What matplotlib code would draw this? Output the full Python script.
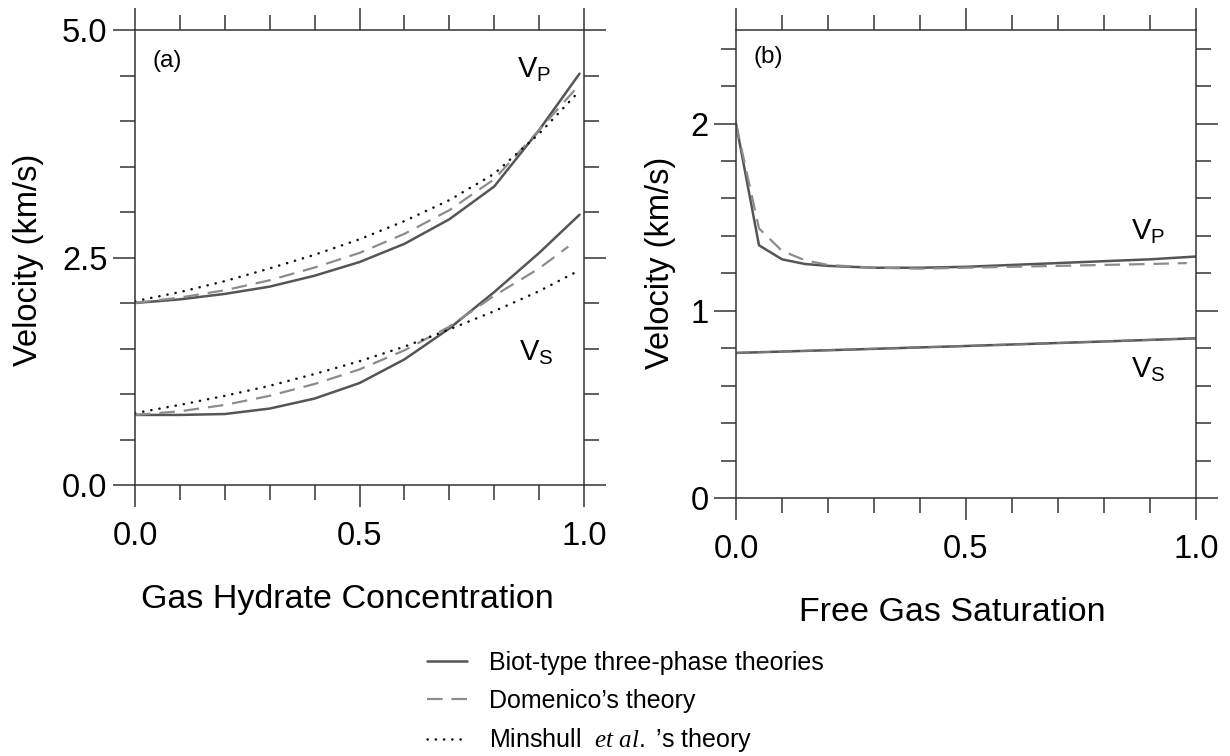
import matplotlib
matplotlib.use("Agg")
import matplotlib.pyplot as plt
from matplotlib.ticker import MultipleLocator, FormatStrFormatter

plt.rcParams['font.family'] = ['Liberation Sans', 'DejaVu Sans']
plt.rcParams['mathtext.fontset'] = 'custom'
plt.rcParams['mathtext.rm'] = 'Liberation Sans'
plt.rcParams['mathtext.it'] = 'Liberation Serif:italic'

# ---------------- data: panel (a) ----------------
hyd_x = [0.0, 0.1, 0.2, 0.3, 0.4, 0.5, 0.6, 0.7, 0.8, 0.9, 0.99]
a_vp_biot = [2.00, 2.04, 2.10, 2.18, 2.30, 2.45, 2.65, 2.92, 3.28, 3.90, 4.52]
a_vp_dom = [2.00, 2.06, 2.14, 2.25, 2.39, 2.55, 2.76, 3.02, 3.36, 3.90, 4.40]
a_vp_min = [2.02, 2.12, 2.24, 2.38, 2.53, 2.70, 2.90, 3.13, 3.42, 3.86, 4.33]
a_vs_biot = [0.77, 0.77, 0.78, 0.84, 0.95, 1.12, 1.38, 1.72, 2.12, 2.55, 2.97]
hyd_x_dom_vs = [0.0, 0.1, 0.2, 0.3, 0.4, 0.5, 0.6, 0.7, 0.8, 0.9, 0.965]
a_vs_dom = [0.77, 0.81, 0.88, 0.98, 1.11, 1.27, 1.48, 1.74, 2.08, 2.38, 2.62]
a_vs_min = [0.79, 0.88, 0.98, 1.09, 1.22, 1.36, 1.52, 1.71, 1.91, 2.13, 2.36]

# ---------------- data: panel (b) ----------------
gas_x = [0.0, 0.05, 0.1, 0.15, 0.2, 0.3, 0.4, 0.5, 0.6, 0.7, 0.8, 0.9, 1.0]
b_vp_biot = [2.00, 1.35, 1.275, 1.25, 1.24, 1.23, 1.23, 1.235, 1.245, 1.255, 1.265, 1.275, 1.29]
gas_x_dom = [0.0, 0.05, 0.1, 0.15, 0.2, 0.3, 0.4, 0.5, 0.6, 0.7, 0.8, 0.9, 0.98]
b_vp_dom = [2.00, 1.44, 1.32, 1.27, 1.245, 1.23, 1.225, 1.23, 1.235, 1.24, 1.245, 1.25, 1.255]
gas_x_vs = [0.0, 0.25, 0.5, 0.75, 1.0]
b_vs_biot = [0.775, 0.793, 0.812, 0.832, 0.853]
b_vs_dom = [0.775, 0.793, 0.812, 0.832, 0.853]

legend_labels = ["Biot-type three-phase theories",
                 "Domenico\u2019s theory",
                 "Minshull  $\\mathit{et\\ al.}$ \u2019s theory"]

C_SOLID = '#555555'
C_DASH = '#8c8c8c'
C_DOT = '#111111'
C_AX = '#333333'

fig = plt.figure(figsize=(12.3, 7.56), dpi=100)
axa = fig.add_axes([135/1230, 1 - 485/756, 449/1230, 455/756])
axb = fig.add_axes([736/1230, 1 - 498/756, 460/1230, 468/756])

solid_kw = dict(color=C_SOLID, lw=1.8, solid_capstyle='round')
dash_kw = dict(color=C_DASH, lw=1.6, linestyle=(0, (7, 4)))
dot_kw = dict(color=C_DOT, lw=1.8, linestyle=(0, (0.1, 3.2)), dash_capstyle='round')

# panel a
l1, = axa.plot(hyd_x, a_vp_biot, **solid_kw)
l2, = axa.plot(hyd_x, a_vp_dom, **dash_kw)
l3, = axa.plot(hyd_x, a_vp_min, **dot_kw)
axa.plot(hyd_x, a_vs_biot, **solid_kw)
axa.plot(hyd_x_dom_vs, a_vs_dom, **dash_kw)
axa.plot(hyd_x, a_vs_min, **dot_kw)

# panel b
axb.plot(gas_x, b_vp_biot, **solid_kw)
axb.plot(gas_x_dom, b_vp_dom, **dash_kw)
axb.plot(gas_x_vs, b_vs_biot, **solid_kw)
axb.plot(gas_x_vs, b_vs_dom, color='#777777', lw=1.4, linestyle=(0, (7, 4)))

for ax in (axa, axb):
    ax.set_xlim(0, 1.0)
    ax.xaxis.set_major_locator(MultipleLocator(0.5))
    ax.xaxis.set_minor_locator(MultipleLocator(0.1))
    ax.tick_params(which='both', direction='out', top=True, right=True,
                   labeltop=False, labelright=False, colors=C_AX, width=1.1,
                   labelcolor='black', labelsize=23.5)
    ax.tick_params(which='major', length=15.8)
    ax.tick_params(which='minor', length=10.8)
    ax.tick_params(axis='x', which='major', pad=10)
    ax.tick_params(axis='y', which='major', pad=4)
    ax.xaxis.set_major_formatter(FormatStrFormatter('%.1f'))
    for s in ax.spines.values():
        s.set_color(C_AX)
        s.set_linewidth(1.1)

axa.set_ylim(0, 5.0)
axa.yaxis.set_major_locator(MultipleLocator(2.5))
axa.yaxis.set_minor_locator(MultipleLocator(0.5))
axa.yaxis.set_major_formatter(FormatStrFormatter('%.1f'))

axb.set_ylim(0, 2.5)
axb.yaxis.set_major_locator(MultipleLocator(1))
axb.yaxis.set_minor_locator(MultipleLocator(0.2))
axb.yaxis.set_major_formatter(FormatStrFormatter('%d'))

# axis labels
axa.set_xlabel("Gas Hydrate Concentration", fontsize=24.5)
axa.xaxis.set_label_coords(0.472, -0.252)
axa.xaxis.label.set_va('center')
axa.set_ylabel("Velocity (km/s)", fontsize=23.5)
axa.yaxis.set_label_coords(-0.238, 0.4945)
axa.yaxis.label.set_va('center')

axb.set_xlabel("Free Gas Saturation", fontsize=24.5)
axb.xaxis.set_label_coords(0.47, -0.245)
axb.xaxis.label.set_va('center')
axb.set_ylabel("Velocity (km/s)", fontsize=23.5)
axb.yaxis.set_label_coords(-0.165, 0.502)
axb.yaxis.label.set_va('center')

# panel tags and curve labels
axa.text(0.04, 0.932, "(a)", transform=axa.transAxes, fontsize=17.5, va='center', ha='left')
axb.text(0.039, 0.942, "(b)", transform=axb.transAxes, fontsize=17.5, va='center', ha='left')
axa.text(0.85, 4.48, r"V$_{\mathrm{P}}$", fontsize=21, ha='left', va='baseline')
axa.text(0.855, 1.37, r"V$_{\mathrm{S}}$", fontsize=21, ha='left', va='baseline')
axb.text(0.859, 1.378, r"V$_{\mathrm{P}}$", fontsize=21, ha='left', va='baseline')
axb.text(0.859, 0.64, r"V$_{\mathrm{S}}$", fontsize=21, ha='left', va='baseline')

fig.legend([l1, l2, l3], legend_labels, loc='upper left',
           bbox_to_anchor=(427/1230, 1 - 651/756), frameon=False,
           fontsize=18, handlelength=1.6, handletextpad=0.88,
           labelspacing=0.55, borderpad=0, borderaxespad=0)

fig.savefig("out.png", dpi=100)
